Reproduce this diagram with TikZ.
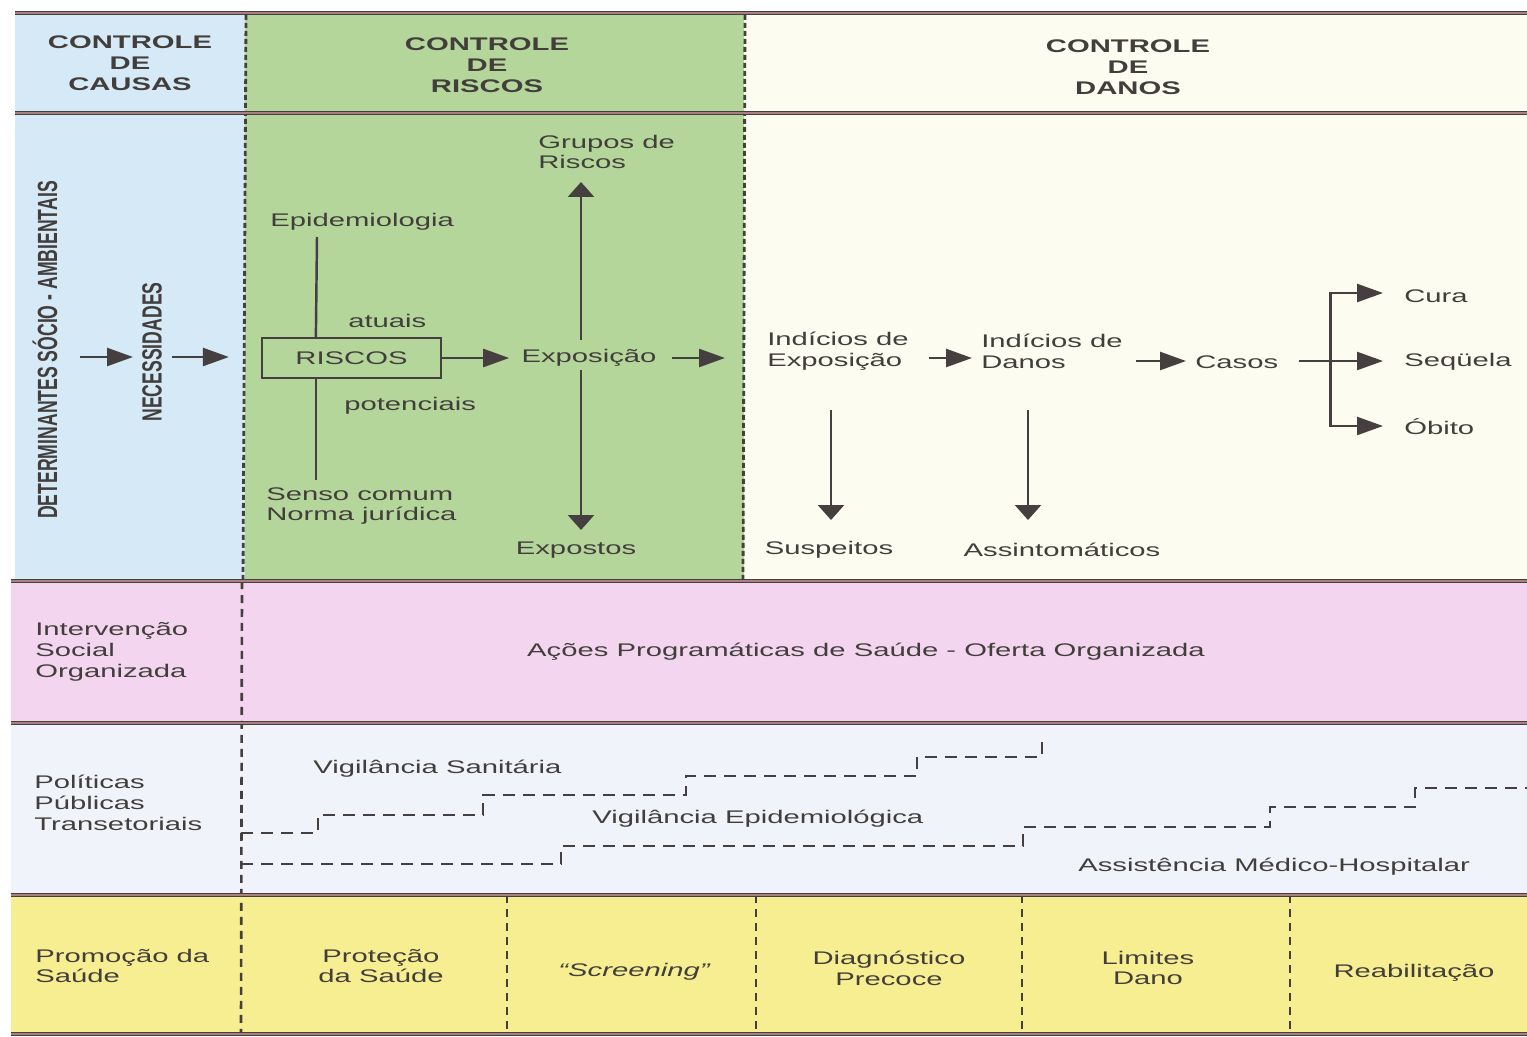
\documentclass[tikz,border=0pt]{standalone}
\usepackage{fontspec}
\setmainfont{Liberation Sans}[FakeStretch=1.6]
\newfontfamily\condfont{Liberation Sans}[FakeStretch=0.635]
\usetikzlibrary{arrows.meta,calc}
\definecolor{txt}{HTML}{423E3C}
\definecolor{lin}{HTML}{453F3F}
\definecolor{linmid}{HTML}{A98080}
\definecolor{cblue}{HTML}{D6E9F7}
\definecolor{cgreen}{HTML}{B5D69B}
\definecolor{ccream}{HTML}{FCFCF1}
\definecolor{cpink}{HTML}{F4D5F0}
\definecolor{cpol}{HTML}{F0F4FA}
\definecolor{cyel}{HTML}{F7EE92}
\begin{document}
\begin{tikzpicture}[x=0.02cm,y=-0.02cm,
  lbl/.style={font=\fontsize{10.4pt}{11.9pt}\selectfont, text=txt, inner sep=0pt},
  hdr/.style={lbl, font=\fontsize{10.4pt}{11.9pt}\selectfont\bfseries, align=center},
  rot/.style={font=\condfont\bfseries\fontsize{15.8pt}{17pt}\selectfont, text=txt, inner sep=0pt, rotate=90},
  dbl/.style={draw=lin, line width=0.9pt, double=linmid, double distance=0.7pt},
  vdash/.style={draw=lin, line width=1.6pt, dash pattern=on 0.1cm off 0.06cm},
  ldash/.style={draw=lin, line width=1.5pt, dash pattern=on 0.16cm off 0.12cm},
  sdash/.style={draw=lin, line width=1.3pt, dash pattern=on 0.24cm off 0.16cm},
  ln/.style={draw=lin, line width=1.4pt},
  harr/.style={ln, -{Triangle[length=0.52cm,width=0.36cm]}},
  varr/.style={ln, -{Triangle[length=0.3cm,width=0.52cm]}},
]
\useasboundingbox (0,0) rectangle (1527,1037);
\fill[white] (0,0) rectangle (1527,1037);
% backgrounds
\fill[cblue] (15,13) rectangle (245,581);
\fill[cgreen] (245,13) rectangle (744,581);
\fill[ccream] (744,13) rectangle (1527,581);
\fill[cpink] (11,581) rectangle (1527,723);
\fill[cpol] (11,723) rectangle (1527,895);
\fill[cyel] (11,895) rectangle (1527,1034);
% dashed verticals
\draw[vdash] (246,15) -- (243,581);
\draw[vdash] (745,15) -- (743,581);
\draw[ldash] (242,581) -- (241,1034);
\draw[ldash] (507,895) -- (507,1034);
\draw[ldash] (756,895) -- (756,1034);
\draw[ldash] (1022,895) -- (1022,1034);
\draw[ldash] (1290,895) -- (1290,1034);
% step lines
\draw[sdash] (241,833) -- (318,833) -- (318,815) -- (483,815) -- (483,795) -- (686,795) -- (686,776) -- (917,776) -- (917,757) -- (1042,757) -- (1042,735);
\draw[sdash] (241,864) -- (561,864) -- (561,846) -- (1023,846) -- (1023,827) -- (1270,827) -- (1270,807) -- (1415,807) -- (1415,788) -- (1527,788);
% horizontal double lines
\draw[dbl] (15,13) -- (1527,13);
\draw[dbl] (15,113) -- (1527,113);
\draw[dbl] (11,581) -- (1527,581);
\draw[dbl] (11,723) -- (1527,723);
\draw[dbl] (11,895) -- (1527,895);
\draw[dbl] (11,1034) -- (1527,1034);
% headers
\node[hdr] (hc) at (130,63) {CONTROLE\\DE\\CAUSAS};
\node[hdr] (hr) at (487,65) {CONTROLE\\DE\\RISCOS};
\node[hdr] (hd) at (1128,67) {CONTROLE\\DE\\DANOS};
% causas column
\node[rot] (det) at (45,350) {DETERMINANTES SÓCIO - AMBIENTAIS};
\node[rot] (nec) at (152,352) {NECESSIDADES};
% riscos column
\node[lbl, draw=lin, line width=1.3pt, minimum width=3.58cm, minimum height=0.8cm] (riscos) at (351.5,358) {RISCOS};
\node[lbl, anchor=west] (epi) at (270,222) {Epidemiologia};
\node[lbl, anchor=west] (atu) at (348,321) {atuais};
\node[lbl, anchor=west] (pot) at (344,406) {potenciais};
\node[lbl, anchor=west, align=left] (sen) at (266,506) {Senso comum\\Norma jurídica};
\node[lbl] (expo) at (589,358) {Exposição};
\node[lbl, anchor=west, align=left] (grp) at (538,152) {Grupos de\\Riscos};
\node[lbl] (expt) at (576,550) {Expostos};
\draw[harr] ($(det.center)+(35,7)$) -- ($(nec.center)+(-19,5)$);
\draw[harr] ($(nec.center)+(20,5)$) -- ($(riscos.west)+(-32,-1)$);
\draw[ln] ($(riscos.north west)+(55,0)$) -- ($(epi.west)+(47,15)$);
\draw[ln] ($(riscos.south west)+(55,0)$) -- ($(riscos.south west)+(55,101)$);
\draw[harr] (riscos.east) -- ($(expo.west)+(-12,0)$);
\draw[varr] ($(expo.center)+(-8,-18)$) -- ($(grp.west)+(43,30)$);
\draw[varr] ($(expo.center)+(-8,12)$) -- ($(expt.center)+(5,-20)$);
% danos column
\node[lbl, anchor=west, align=left] (iexp) at (767,351) {Indícios de\\Exposição};
\node[lbl, anchor=west, align=left] (idan) at (981,351) {Indícios de\\Danos};
\node[lbl, anchor=west] (casos) at (1195,362) {Casos};
\node[lbl, anchor=west] (cura) at (1404,296) {Cura};
\node[lbl, anchor=west] (seq) at (1404,362) {Seqüela};
\node[lbl, anchor=west] (obito) at (1404,427) {Óbito};
\node[lbl] (susp) at (829,550) {Suspeitos};
\node[lbl] (assi) at (1062,550) {Assintomáticos};
\draw[harr] ($(expo.east)+(15,0)$) -- ($(iexp.west)+(-42,7)$);
\draw[harr] ($(iexp.east)+(20,7)$) -- ($(idan.west)+(-9,7)$);
\draw[harr] ($(idan.east)+(13,10)$) -- ($(casos.west)+(-9,-1)$);
\draw[harr] ($(casos.east)+(20,-1)$) -- ($(seq.west)+(-21,-1)$);
\coordinate (br) at ($(casos.east)+(52,-1)$);
\draw[harr] (br) |- ($(cura.west)+(-21,-3)$);
\draw[harr] (br) |- ($(obito.west)+(-21,-1)$);
\draw[varr] ($(susp.center)+(2,-140)$) -- ($(susp.center)+(2,-30)$);
\draw[varr] ($(assi.center)+(-34,-140)$) -- ($(assi.center)+(-34,-30)$);
% pink row
\node[lbl, anchor=west, align=left] (iso) at (35,652) {Intervenção\\Social\\Organizada};
\node[lbl] (acoes) at (866,652) {Ações Programáticas de Saúde - Oferta Organizada};
% policies row
\node[lbl, anchor=west, align=left] (pol) at (34,803) {Políticas\\Públicas\\Transetoriais};
\node[lbl, anchor=west] (vs) at (313,769) {Vigilância Sanitária};
\node[lbl, anchor=west] (ve) at (592,819) {Vigilância Epidemiológica};
\node[lbl, anchor=west] (amh) at (1078,867) {Assistência Médico-Hospitalar};
% yellow row
\node[lbl, anchor=west, align=left] (prom) at (35,966) {Promoção da\\Saúde};
\node[lbl, align=center] (prot) at (381,966) {Proteção\\da Saúde};
\node[lbl] (scr) at (634,972) {\itshape “Screening”};
\node[lbl, align=center] (diag) at (889,968) {Diagnóstico\\Precoce};
\node[lbl, align=center] (lim) at (1148,968) {Limites\\Dano};
\node[lbl] (reab) at (1414,973) {Reabilitação};
\end{tikzpicture}
\end{document}
